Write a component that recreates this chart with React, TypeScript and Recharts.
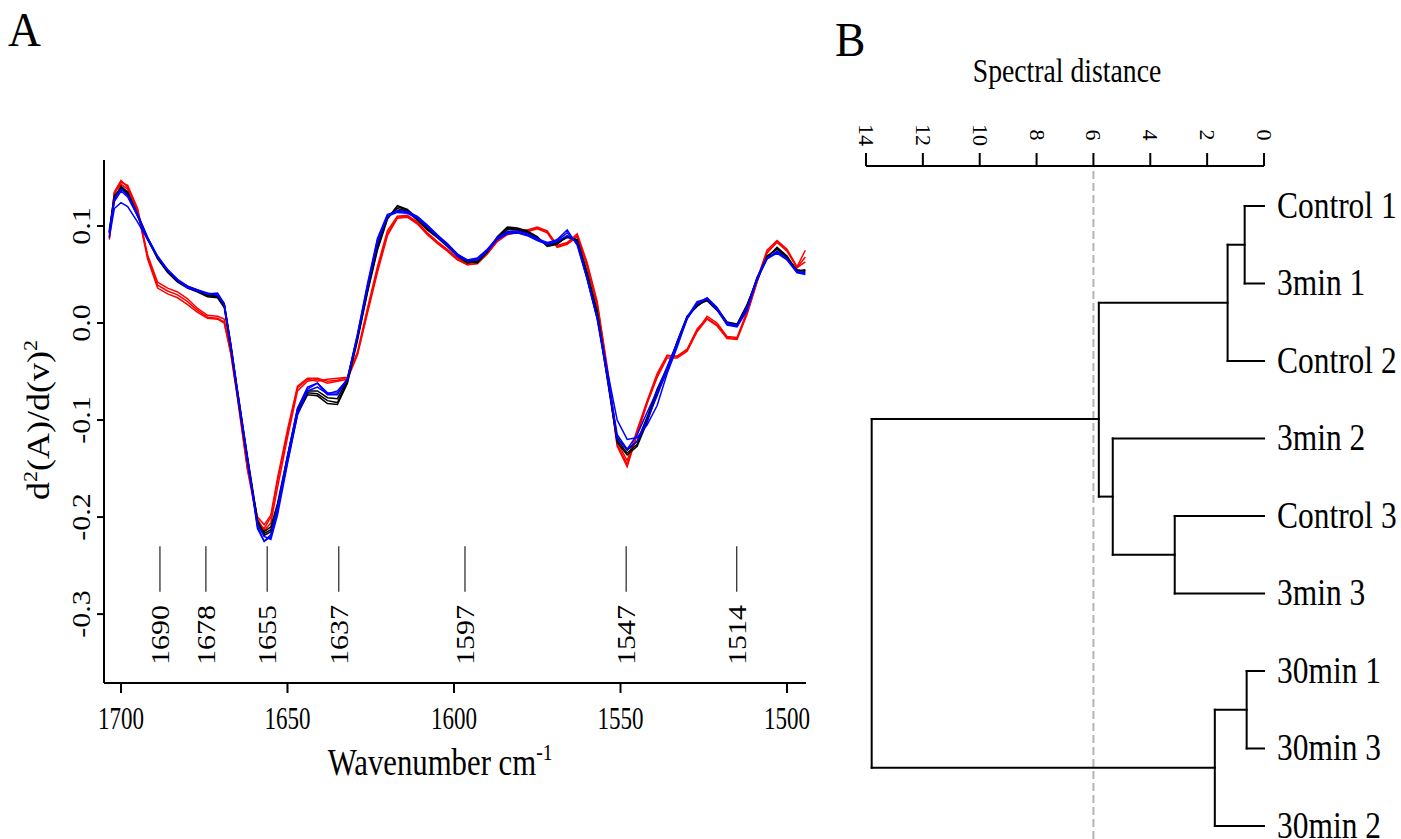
import React from 'react';
import { ComposedChart, Line, XAxis, YAxis, ReferenceLine, Scatter } from 'recharts';

// ---------------- Panel A data ----------------
const wavenumbers = [
  1703.5, 1702, 1700, 1698, 1695, 1692, 1689, 1686, 1683, 1680,
  1677, 1674, 1671, 1669, 1667, 1665, 1662, 1659, 1657, 1655,
  1653, 1650, 1647, 1644, 1641, 1638, 1635, 1632, 1629, 1626,
  1623, 1620, 1617, 1614, 1611, 1608, 1605, 1602, 1599, 1596,
  1593, 1590, 1587, 1584, 1581, 1578, 1575, 1572, 1569, 1566,
  1563, 1560, 1557, 1554, 1551, 1548, 1545, 1542, 1539, 1536,
  1533, 1530, 1527, 1524, 1521, 1518, 1515, 1512, 1509, 1506,
  1503, 1500, 1497, 1494.5,
];

const control1 = [
  0.094, 0.128, 0.140, 0.134, 0.110, 0.086, 0.067, 0.053, 0.043, 0.037,
  0.033, 0.028, 0.027, 0.018, -0.025, -0.072, -0.140, -0.205, -0.217, -0.213,
  -0.190, -0.140, -0.092, -0.072, -0.073, -0.080, -0.082, -0.060, -0.016, 0.033,
  0.077, 0.108, 0.120, 0.116, 0.107, 0.097, 0.089, 0.080, 0.070, 0.063,
  0.063, 0.074, 0.088, 0.098, 0.097, 0.094, 0.088, 0.080, 0.082, 0.089,
  0.085, 0.050, 0.010, -0.055, -0.121, -0.134, -0.125, -0.100, -0.070, -0.048,
  -0.020, 0.006, 0.018, 0.024, 0.014, 0.000, -0.002, 0.018, 0.045, 0.068,
  0.077, 0.068, 0.054, 0.054,
];
const control2 = [
  0.096, 0.131, 0.139, 0.132, 0.111, 0.087, 0.066, 0.052, 0.042, 0.036,
  0.032, 0.027, 0.026, 0.016, -0.027, -0.075, -0.143, -0.207, -0.215, -0.210,
  -0.186, -0.137, -0.090, -0.070, -0.070, -0.077, -0.078, -0.058, -0.015, 0.035,
  0.079, 0.109, 0.118, 0.115, 0.106, 0.096, 0.088, 0.079, 0.069, 0.062,
  0.064, 0.075, 0.087, 0.096, 0.096, 0.093, 0.087, 0.081, 0.083, 0.088,
  0.086, 0.052, 0.012, -0.052, -0.118, -0.131, -0.122, -0.097, -0.068, -0.046,
  -0.021, 0.005, 0.019, 0.023, 0.013, -0.001, -0.003, 0.017, 0.046, 0.069,
  0.076, 0.067, 0.055, 0.053,
];
const control3 = [
  0.093, 0.127, 0.141, 0.135, 0.112, 0.088, 0.068, 0.054, 0.044, 0.038,
  0.034, 0.029, 0.028, 0.019, -0.024, -0.070, -0.138, -0.203, -0.219, -0.215,
  -0.193, -0.143, -0.094, -0.074, -0.075, -0.083, -0.084, -0.062, -0.018, 0.031,
  0.075, 0.107, 0.121, 0.117, 0.108, 0.098, 0.090, 0.081, 0.071, 0.064,
  0.062, 0.073, 0.089, 0.099, 0.098, 0.095, 0.089, 0.079, 0.081, 0.090,
  0.084, 0.049, 0.009, -0.057, -0.123, -0.136, -0.127, -0.102, -0.072, -0.050,
  -0.019, 0.007, 0.017, 0.025, 0.015, 0.001, -0.001, 0.019, 0.044, 0.067,
  0.078, 0.069, 0.053, 0.055,
];

const min3_1 = [
  0.088, 0.118, 0.124, 0.120, 0.104, 0.086, 0.068, 0.055, 0.044, 0.037,
  0.034, 0.031, 0.029, 0.020, -0.022, -0.070, -0.140, -0.210, -0.225, -0.220,
  -0.193, -0.138, -0.088, -0.066, -0.062, -0.072, -0.072, -0.058, -0.012, 0.038,
  0.085, 0.110, 0.116, 0.115, 0.110, 0.101, 0.091, 0.082, 0.071, 0.065,
  0.066, 0.075, 0.087, 0.093, 0.093, 0.091, 0.086, 0.082, 0.086, 0.096,
  0.080, 0.045, 0.005, -0.048, -0.100, -0.120, -0.118, -0.105, -0.085, -0.052,
  -0.025, 0.005, 0.020, 0.025, 0.014, -0.002, -0.004, 0.013, 0.045, 0.066,
  0.072, 0.065, 0.052, 0.050,
];
const min3_2 = [
  0.094, 0.128, 0.138, 0.132, 0.112, 0.088, 0.069, 0.055, 0.045, 0.038,
  0.034, 0.030, 0.031, 0.020, -0.023, -0.072, -0.142, -0.212, -0.225, -0.218,
  -0.190, -0.137, -0.088, -0.068, -0.062, -0.074, -0.074, -0.057, -0.012, 0.040,
  0.087, 0.112, 0.115, 0.114, 0.109, 0.100, 0.090, 0.080, 0.070, 0.065,
  0.067, 0.076, 0.088, 0.094, 0.095, 0.092, 0.087, 0.083, 0.085, 0.093,
  0.082, 0.046, 0.005, -0.052, -0.115, -0.130, -0.122, -0.100, -0.075, -0.048,
  -0.022, 0.004, 0.020, 0.026, 0.016, 0.000, -0.003, 0.014, 0.046, 0.066,
  0.074, 0.066, 0.052, 0.051,
];
const min3_3 = [
  0.093, 0.125, 0.136, 0.130, 0.110, 0.087, 0.068, 0.054, 0.044, 0.036,
  0.033, 0.030, 0.029, 0.019, -0.024, -0.073, -0.140, -0.208, -0.220, -0.223,
  -0.198, -0.145, -0.095, -0.070, -0.066, -0.073, -0.070, -0.058, -0.014, 0.036,
  0.083, 0.110, 0.114, 0.113, 0.108, 0.099, 0.089, 0.080, 0.069, 0.064,
  0.065, 0.074, 0.086, 0.092, 0.093, 0.090, 0.085, 0.081, 0.084, 0.090,
  0.083, 0.045, 0.004, -0.055, -0.120, -0.130, -0.115, -0.092, -0.070, -0.045,
  -0.020, 0.006, 0.022, 0.025, 0.015, -0.001, -0.002, 0.016, 0.047, 0.067,
  0.073, 0.066, 0.053, 0.052,
];

const min30_1 = [
  0.086, 0.133, 0.145, 0.142, 0.118, 0.070, 0.042, 0.036, 0.032, 0.025,
  0.015, 0.008, 0.007, 0.004, -0.030, -0.075, -0.150, -0.200, -0.208, -0.198,
  -0.160, -0.110, -0.065, -0.057, -0.057, -0.060, -0.059, -0.056, -0.030, 0.015,
  0.058, 0.095, 0.110, 0.111, 0.104, 0.093, 0.084, 0.076, 0.067, 0.061,
  0.063, 0.073, 0.086, 0.093, 0.095, 0.096, 0.099, 0.095, 0.080, 0.083,
  0.092, 0.062, 0.022, -0.045, -0.122, -0.142, -0.110, -0.080, -0.052, -0.033,
  -0.035, -0.028, -0.008, 0.007, 0.000, -0.014, -0.015, 0.012, 0.045, 0.075,
  0.085, 0.076, 0.058, 0.075,
];
const min30_2 = [
  0.088, 0.135, 0.147, 0.140, 0.116, 0.068, 0.039, 0.033, 0.029, 0.022,
  0.013, 0.006, 0.005, 0.001, -0.032, -0.078, -0.152, -0.205, -0.212, -0.200,
  -0.163, -0.113, -0.067, -0.058, -0.060, -0.058, -0.057, -0.056, -0.032, 0.012,
  0.055, 0.092, 0.109, 0.110, 0.103, 0.092, 0.083, 0.075, 0.066, 0.060,
  0.062, 0.072, 0.085, 0.092, 0.094, 0.095, 0.098, 0.094, 0.079, 0.082,
  0.090, 0.060, 0.020, -0.048, -0.125, -0.146, -0.113, -0.082, -0.055, -0.034,
  -0.034, -0.027, -0.006, 0.005, -0.002, -0.015, -0.016, 0.010, 0.043, 0.073,
  0.083, 0.074, 0.057, 0.063,
];
const min30_3 = [
  0.090, 0.134, 0.143, 0.138, 0.115, 0.066, 0.036, 0.030, 0.026, 0.019,
  0.011, 0.005, 0.004, 0.000, -0.031, -0.076, -0.148, -0.202, -0.214, -0.206,
  -0.170, -0.118, -0.070, -0.060, -0.058, -0.062, -0.060, -0.058, -0.033, 0.010,
  0.052, 0.090, 0.108, 0.109, 0.102, 0.091, 0.082, 0.074, 0.065, 0.060,
  0.061, 0.071, 0.084, 0.091, 0.093, 0.094, 0.097, 0.093, 0.078, 0.081,
  0.089, 0.058, 0.018, -0.050, -0.127, -0.148, -0.115, -0.083, -0.056, -0.036,
  -0.036, -0.029, -0.009, 0.004, -0.003, -0.016, -0.017, 0.009, 0.042, 0.072,
  0.084, 0.075, 0.057, 0.068,
];

const wavenumberTicks = [1700, 1650, 1600, 1550, 1500];
const derivTicks = [-0.3, -0.2, -0.1, 0, 0.1];
const derivTickLabels = ['-0.3', '-0.2', '-0.1', '0.0', '0.1'];
const bandLabels = ['1690', '1678', '1655', '1637', '1597', '1547', '1514'];
const bandPositions = [1688.3, 1674.5, 1656.1, 1634.6, 1596.7, 1548.3, 1515.1];

// ---------------- Panel B data ----------------
const leafLabels = ['Control 1', '3min 1', 'Control 2', '3min 2', 'Control 3', '3min 3', '30min 1', '30min 3', '30min 2'];
const mergeChildren = [[-1, -2], [1, -3], [-5, -6], [-4, 3], [2, 4], [-7, -8], [6, -9], [5, 7]];
const mergeHeights = [0.68, 1.28, 3.14, 5.32, 5.81, 0.61, 1.73, 13.8];
const mergePositions = [1.5, 2.25, 5.5, 4.75, 3.75, 7.5, 8.25, 6.0];
const distanceTicks = [0, 2, 4, 6, 8, 10, 12, 14];
const cutDistance = 6;

// ---------------- helpers ----------------
const FONT = '"Liberation Serif", "Times New Roman", Times, serif';

const series = [
  { key: 'r1', values: min30_1, color: '#ff0000' },
  { key: 'r2', values: min30_2, color: '#ff0000' },
  { key: 'r3', values: min30_3, color: '#ff0000' },
  { key: 'k1', values: control1, color: '#000000' },
  { key: 'k2', values: control2, color: '#000000' },
  { key: 'k3', values: control3, color: '#000000' },
  { key: 'b1', values: min3_1, color: '#0000ff' },
  { key: 'b2', values: min3_2, color: '#0000ff' },
  { key: 'b3', values: min3_3, color: '#0000ff' },
];

const spectraRows = wavenumbers.map((w, i) => {
  const row: any = { w };
  series.forEach((s) => { row[s.key] = s.values[i]; });
  return row;
});

const bandRows = bandPositions.map((w, i) => ({ w, v: -0.3216, label: bandLabels[i] }));

function T({ x, y, size, rot = 0, anchor = 'middle', sx = 1, children }: any) {
  return (
    <text
      transform={`translate(${x},${y}) scale(${sx},1) rotate(${rot})`}
      fontFamily={FONT}
      fontSize={size}
      textAnchor={anchor}
      fill="#000"
    >
      {children}
    </text>
  );
}

const XTickA = (props: any) => {
  const { x, y, payload } = props;
  return <T x={x} y={y + 36} size={32} sx={0.72}>{String(payload.value)}</T>;
};
const YTickA = (props: any) => {
  const { x, y, payload } = props;
  const idx = derivTicks.findIndex((t) => Math.abs(t - payload.value) < 1e-9);
  return <T x={x - 7} y={y} size={30} rot={-90} sx={0.85}>{derivTickLabels[idx]}</T>;
};
const BandLabel = (props: any) => {
  const { cx, cy, payload } = props;
  return <T x={cx + 9} y={cy} size={30} rot={-90} sx={0.85}>{payload.label}</T>;
};

function nodeInfo(id: number) {
  if (id < 0) return { h: 0, pos: -id };
  return { h: mergeHeights[id - 1], pos: mergePositions[id - 1] };
}
const dendroSegments: any[] = [];
mergeChildren.forEach(([a, b], i) => {
  const h = mergeHeights[i];
  const A = nodeInfo(a);
  const B = nodeInfo(b);
  dendroSegments.push([{ x: A.h, y: A.pos }, { x: h, y: A.pos }]);
  dendroSegments.push([{ x: B.h, y: B.pos }, { x: h, y: B.pos }]);
  dendroSegments.push([{ x: h, y: A.pos }, { x: h, y: B.pos }]);
});
const leafRows = leafLabels.map((label, i) => ({ d: 0, pos: i + 1, label }));

const DistTick = (props: any) => {
  const { x, y, payload } = props;
  return <T x={x - 7} y={y - 18} size={22} rot={90} sx={0.95}>{String(payload.value)}</T>;
};
const LeafTick = (props: any) => {
  const { x, y, payload } = props;
  return (
    <text
      transform={`translate(${x + 13},${y + 12}) scale(0.85,1)`}
      fontFamily={FONT}
      fontSize={37}
      textAnchor="start"
      fill="#000"
    >
      {leafLabels[payload.value - 1]}
    </text>
  );
};

export default function App() {
  return (
    <div style={{ position: 'absolute', left: 0, top: 0, width: 1401, height: 839, background: '#fff', overflow: 'hidden' }}>
      <div style={{ position: 'absolute', left: 0, top: 0 }}>
        <ComposedChart width={830} height={839} data={spectraRows} margin={{ top: 160, right: 24, bottom: 96, left: 64 }}>
          <XAxis
            dataKey="w"
            type="number"
            domain={[1494.3, 1705.1]}
            reversed
            allowDataOverflow
            ticks={wavenumberTicks}
            interval={0}
            height={60}
            tickSize={10}
            tickMargin={0}
            axisLine={{ stroke: '#000', strokeWidth: 2 }}
            tickLine={{ stroke: '#000', strokeWidth: 2 }}
            tick={<XTickA />}
          />
          <YAxis
            type="number"
            domain={[-0.371, 0.168]}
            allowDataOverflow
            ticks={derivTicks}
            interval={0}
            width={40}
            tickSize={7}
            tickMargin={0}
            axisLine={{ stroke: '#000', strokeWidth: 2 }}
            tickLine={{ stroke: '#000', strokeWidth: 2 }}
            tick={<YTickA />}
          />
          {series.map((s) => (
            <Line
              key={s.key}
              dataKey={s.key}
              type="linear"
              stroke={s.color}
              strokeWidth={1.5}
              dot={false}
              activeDot={false}
              isAnimationActive={false}
            />
          ))}
          {bandPositions.map((w, i) => (
            <ReferenceLine
              key={'band' + i}
              segment={[{ x: w, y: -0.23 }, { x: w, y: -0.277 }]}
              stroke="#222"
              strokeWidth={1.2}
            />
          ))}
          <Scatter data={bandRows} dataKey="v" shape={<BandLabel />} isAnimationActive={false} />
        </ComposedChart>
      </div>

      <div style={{ position: 'absolute', left: 830, top: 0 }}>
        <ComposedChart width={571} height={839} data={leafRows} margin={{ top: 106, right: 0, bottom: 0, left: 36 }}>
          <XAxis
            dataKey="d"
            type="number"
            orientation="top"
            domain={[0, 14]}
            reversed
            allowDataOverflow
            ticks={distanceTicks}
            interval={0}
            height={60}
            tickSize={13}
            tickMargin={0}
            axisLine={{ stroke: '#000', strokeWidth: 2 }}
            tickLine={{ stroke: '#000', strokeWidth: 2 }}
            tick={<DistTick />}
          />
          <YAxis
            dataKey="pos"
            type="number"
            orientation="right"
            domain={[0.484, 9.168]}
            reversed
            allowDataOverflow
            ticks={[1, 2, 3, 4, 5, 6, 7, 8, 9]}
            interval={0}
            width={137}
            tickSize={0}
            tickMargin={0}
            axisLine={false}
            tickLine={false}
            tick={<LeafTick />}
          />
          <ReferenceLine
            segment={[{ x: cutDistance, y: 0.55 }, { x: cutDistance, y: 9.168 }]}
            stroke="#b4b4b4"
            strokeWidth={2}
            strokeDasharray="8 4"
            ifOverflow="visible"
          />
          {dendroSegments.map((seg, i) => (
            <ReferenceLine
              key={'seg' + i}
              segment={seg}
              stroke="#000"
              strokeWidth={2}
              strokeLinecap="square"
              ifOverflow="visible"
            />
          ))}
          <Scatter dataKey="pos" shape={() => <g />} isAnimationActive={false} />
        </ComposedChart>
      </div>

      <svg width={1401} height={839} style={{ position: 'absolute', left: 0, top: 0, pointerEvents: 'none' }}>
        <T x={8} y={46} size={48} anchor="start" sx={0.95}>A</T>
        <T x={835} y={56} size={48} anchor="start" sx={0.95}>B</T>
        <T x={1067} y={82} size={33} sx={0.84}>Spectral distance</T>
        <text transform="translate(49,420) scale(0.85,1) rotate(-90)" fontFamily={FONT} fontSize={36} textAnchor="middle" fill="#000">
          d<tspan fontSize={22} dy={-14}>2</tspan><tspan dy={14}>(A)/d(v)</tspan><tspan fontSize={22} dy={-14}>2</tspan>
        </text>
        <text transform="translate(440,775) scale(0.81,1)" fontFamily={FONT} fontSize={38} textAnchor="middle" fill="#000">
          Wavenumber cm<tspan fontSize={24} dy={-15}>-1</tspan>
        </text>
      </svg>
    </div>
  );
}
